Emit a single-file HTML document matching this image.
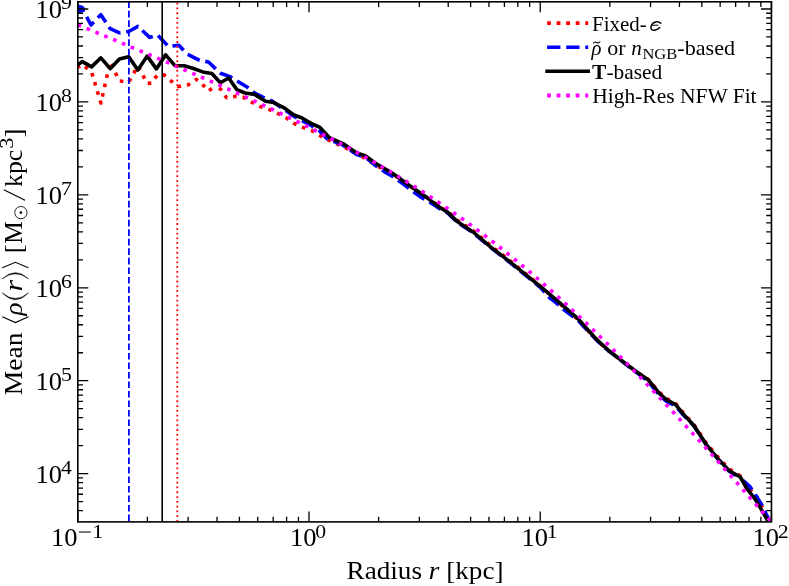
<!DOCTYPE html>
<html><head><meta charset="utf-8"><title>plot</title>
<style>
html,body{margin:0;padding:0;background:#fff;}
body{width:789px;height:586px;position:relative;overflow:hidden;font-family:"Liberation Serif",serif;color:#000;}
text{font-family:"Liberation Serif",serif;white-space:pre;}
</style></head><body>
<svg width="789" height="586" viewBox="0 0 789 586" style="position:absolute;left:0;top:0">
<defs><clipPath id="c"><rect x="77.8" y="1.8" width="693.6500000000001" height="520.1"/></clipPath></defs>
<g clip-path="url(#c)" fill="none" stroke-linejoin="round">
<path d="M77.75,67.30 L82.40,64.60 L91.60,72.10 L100.90,103.10 L110.20,61.80 L119.40,81.00 L128.70,82.00 L137.90,66.00 L147.20,83.40 L151.80,83.10 L157.00,75.30 L164.10,74.90 L170.90,80.80 L178.40,86.60 L188.40,84.80 L196.20,79.40 L202.30,84.20 L208.50,91.00 L216.00,85.50" stroke="#ff0000" stroke-width="3.6" stroke-dasharray="3.60 5.94" stroke-dashoffset="0.9"/>
<path d="M216.00,85.50 L221.00,89.60 L226.60,97.80 L234.80,96.40 L243.00,97.10 L251.20,101.90 L259.40,106.20 L268.90,109.40 L277.10,113.10 L286.00,117.60 L293.50,123.20 L302.00,127.10 L311.50,130.50 L319.00,135.00 L327.70,139.70 L336.00,143.60 L344.70,147.40 L361.80,156.40 L378.00,166.40 L391.40,173.23 L395.00,175.60 L409.80,185.97 L426.20,196.91 L440.00,207.02 L440.90,207.65 L447.70,211.14 L455.00,217.92 L457.30,220.20 L473.70,231.10 L491.40,246.20 L500.00,252.81 L510.00,260.70 L530.00,277.33 L532.80,279.73 L540.00,285.77 L553.70,298.01 L560.00,303.72 L567.30,310.00 L578.20,319.50 L587.80,330.40 L597.30,340.70 L600.00,343.20 L608.30,350.78 L620.00,359.50 L623.70,362.34 L637.30,372.34 L640.00,374.17 L648.40,379.50 L659.50,392.43 L660.00,392.84 L666.30,398.44 L675.70,403.59 L683.40,413.04 L693.60,424.20 L701.30,435.46 L706.20,443.00 L717.60,456.80 L728.90,468.90 L731.30,470.27 L740.30,476.00 L746.70,484.90 L752.40,492.20 L754.90,495.10 L756.50,497.53 L761.30,505.40 L762.10,506.80 L767.00,516.40 L767.80,517.80 L771.60,524.50" stroke="#ff0000" stroke-width="3.6" stroke-dasharray="3.60 5.94" stroke-dashoffset="5.6"/>
<path d="M82.00,8.30 L91.00,25.00 L100.90,14.70 L110.20,28.70 L119.40,32.80 L128.70,31.50 L137.90,26.40 L149.60,37.40 L157.50,35.00 L168.50,46.50 L178.80,45.30 L187.30,54.10 L199.60,60.30 L208.50,62.00 L216.00,69.10 L220.50,73.20 L230.00,76.60 L247.80,87.50 L254.60,93.00 L262.80,97.10 L272.30,101.20 L279.00,106.00 L295.00,116.90 L302.00,120.60 L312.00,126.03 L312.30,126.26 L320.00,131.15 L320.80,132.18 L326.00,137.67 L329.40,140.61 L335.00,141.73 L343.00,145.20 L345.00,146.57 L356.70,154.60 L365.20,157.20 L370.00,160.82 L375.40,165.51 L385.00,172.12 L391.40,175.68 L405.70,185.74 L409.80,188.96 L420.00,196.63 L426.20,200.07 L436.40,206.40 L440.90,209.54 L447.70,213.04 L450.00,215.18 L457.30,222.36 L473.70,233.16 L491.40,248.15 L500.00,254.71 L510.00,262.50 L532.80,281.23 L540.00,287.00 L549.60,297.73 L553.70,300.96 L559.80,305.85 L564.60,310.28 L567.30,312.23 L575.50,318.25 L578.20,320.47 L587.80,330.91 L590.00,333.19 L597.30,340.84 L608.30,350.66 L610.00,351.89 L620.00,359.67 L623.70,362.63 L637.30,373.06 L640.00,374.97 L646.00,379.94 L648.40,381.60 L659.50,395.20 L666.30,401.20 L670.00,403.21 L675.70,406.07 L680.00,411.15 L683.40,415.10 L693.60,425.58 L700.00,435.05 L706.20,444.71 L717.60,458.71 L728.00,470.04 L728.90,471.04 L740.30,478.00" stroke="#0000ff" stroke-width="3.6" stroke-dasharray="13.32 5.76" stroke-dashoffset="9.3"/>
<path d="M740.30,478.00 L750.00,486.70 L756.50,496.50 L762.10,505.40 L766.20,514.30 L771.60,524.00" stroke="#0000ff" stroke-width="3.6" stroke-dasharray="13.32 5.76" stroke-dashoffset="15.76"/>
<path d="M77,4.3 L82.2,5.6 Q85.6,7.6 85.0,9.4 Q84.4,10.9 81.2,12.7 L77,14.4 Z" fill="#0000ff" stroke="none"/>
<path d="M77.75,64.80 L82.40,61.60 L91.60,66.90 L100.90,57.80 L110.20,68.70 L119.40,59.10 L128.70,56.70 L137.90,70.00 L147.20,56.10 L156.40,68.90 L165.60,54.80 L174.90,65.70 L184.20,65.70 L193.50,68.50 L202.70,71.90 L211.90,73.50 L220.30,82.80 L228.70,78.00 L236.80,89.60 L245.00,93.00 L254.60,94.40 L265.50,101.20 L273.70,102.60 L283.30,107.30 L293.50,114.60 L302.00,118.00 L312.30,124.00 L320.00,127.40 L329.40,137.70 L343.00,143.60 L356.70,153.00 L365.20,155.60 L375.40,163.30 L391.40,172.50 L409.80,185.80 L426.20,197.10 L440.90,208.20 L447.70,212.10 L457.30,221.60 L473.70,232.50 L491.40,247.60 L510.00,261.90 L532.80,280.40 L540.00,286.10 L553.70,297.70 L567.30,309.40 L578.20,318.90 L587.80,329.80 L597.30,340.10 L608.30,350.30 L620.00,359.20 L623.70,362.10 L637.30,372.30 L648.40,380.00 L659.50,393.60 L666.30,399.60 L675.70,404.70 L683.40,414.10 L693.60,425.20 L706.20,444.60 L717.60,458.40 L728.90,470.50 L740.30,477.00 L746.70,488.40 L754.90,498.90 L761.30,509.40 L767.80,520.80 L771.60,527.50" stroke="#000" stroke-width="3.6"/>
<path d="M77.79,24.79 L80.70,26.00 L83.61,27.20 L86.52,28.41 L89.43,29.61 L92.34,30.82 L95.25,32.03 L98.16,33.24 L101.08,34.45 L103.99,35.66 L106.90,36.87 L109.81,38.09 L112.72,39.30 L115.63,40.52 L118.54,41.74 L121.45,42.96 L124.36,44.18 L127.27,45.40 L130.18,46.62 L133.09,47.85 L136.00,49.08 L138.91,50.30 L141.83,51.53 L144.74,52.77 L147.65,54.00 L150.56,55.24 L153.47,56.47 L156.38,57.71 L159.29,58.95 L162.20,60.20 L165.11,61.44 L168.02,62.69 L170.93,63.94 L173.84,65.19 L176.75,66.45 L179.66,67.71 L182.58,68.97 L185.49,70.23 L188.40,71.49 L191.31,72.76 L194.22,74.03 L197.13,75.30 L200.04,76.58 L202.95,77.86 L205.86,79.14 L208.77,80.42 L211.68,81.71 L214.59,83.00 L217.50,84.30 L220.41,85.60 L223.33,86.90 L226.24,88.20 L229.15,89.51 L232.06,90.83 L234.97,92.14 L237.88,93.46 L240.79,94.79 L243.70,96.12 L246.61,97.45 L249.52,98.79 L252.43,100.13 L255.34,101.48 L258.25,102.83 L261.16,104.19 L264.08,105.55 L266.99,106.92 L269.90,108.29 L272.81,109.67 L275.72,111.06 L278.63,112.45 L281.54,113.84 L284.45,115.24 L287.36,116.65 L290.27,118.07 L293.18,119.49 L296.09,120.91 L299.00,122.35 L301.91,123.79 L304.83,125.23 L307.74,126.69 L310.65,128.15 L313.56,129.62 L316.47,131.10 L319.38,132.58 L322.29,134.07 L325.20,135.58 L328.11,137.09 L331.02,138.60 L333.93,140.13 L336.84,141.67 L339.75,143.21 L342.66,144.76 L345.58,146.33 L348.49,147.90 L351.40,149.48 L354.31,151.07 L357.22,152.68 L360.13,154.29 L363.04,155.91 L365.95,157.55 L368.86,159.19 L371.77,160.85 L374.68,162.51 L377.59,164.19 L380.50,165.88 L383.41,167.58 L386.33,169.30 L389.24,171.02 L392.15,172.76 L395.06,174.51 L397.97,176.28 L400.88,178.06 L403.79,179.85 L406.70,181.65 L409.61,183.47 L412.52,185.30 L415.43,187.14 L418.34,189.00 L421.25,190.87 L424.16,192.76 L427.08,194.66 L429.99,196.57 L432.90,198.51 L435.81,200.45 L438.72,202.41 L441.63,204.39 L444.54,206.38 L447.45,208.39 L450.36,210.41 L453.27,212.45 L456.18,214.50 L459.09,216.57 L462.00,218.66 L464.91,220.76 L467.83,222.88 L470.74,225.02 L473.65,227.17 L476.56,229.34 L479.47,231.52 L482.38,233.72 L485.29,235.94 L488.20,238.18 L491.11,240.43 L494.02,242.70 L496.93,244.98 L499.84,247.28 L502.75,249.60 L505.66,251.94 L508.58,254.29 L511.49,256.66 L514.40,259.05 L517.31,261.46 L520.22,263.88 L523.13,266.32 L526.04,268.77 L528.95,271.24 L531.86,273.73 L534.77,276.24 L537.68,278.76 L540.59,281.30 L543.50,283.85 L546.41,286.42 L549.33,289.01 L552.24,291.61 L555.15,294.23 L558.06,296.87 L560.97,299.52 L563.88,302.18 L566.79,304.87 L569.70,307.56 L572.61,310.28 L575.52,313.01 L578.43,315.75 L581.34,318.51 L584.25,321.28 L587.16,324.07 L590.08,326.87 L592.99,329.68 L595.90,332.51 L598.81,335.36 L601.72,338.22 L604.63,341.09 L607.54,343.97 L610.45,346.87 L613.36,349.78 L616.27,352.70 L619.18,355.64 L622.09,358.59 L625.00,361.55 L627.91,364.52 L630.83,367.51 L633.74,370.50 L636.65,373.51 L639.56,376.53 L642.47,379.56 L645.38,382.60 L648.29,385.66 L651.20,388.72 L654.11,391.79 L657.02,394.88 L659.93,397.97 L662.84,401.07 L665.75,404.19 L668.66,407.31 L671.58,410.44 L674.49,413.58 L677.40,416.73 L680.31,419.89 L683.22,423.05 L686.13,426.23 L689.04,429.41 L691.95,432.61 L694.86,435.80 L697.77,439.01 L700.68,442.23 L703.59,445.45 L706.50,448.68 L709.41,451.91 L712.33,455.16 L715.24,458.41 L718.15,461.67 L721.06,464.93 L723.97,468.20 L726.88,471.47 L729.79,474.76 L732.70,478.04 L735.61,481.34 L738.52,484.64 L741.43,487.94 L744.34,491.25 L747.25,494.56 L750.16,497.88 L753.08,501.21 L755.99,504.54 L758.90,507.87 L761.81,511.21 L764.72,514.56 L767.63,517.91 L770.54,521.26 L773.45,524.62" stroke="#ff00ff" stroke-width="3.6" stroke-dasharray="3.6 5.96" stroke-dashoffset="0"/>
<path d="M128.9,521.1 V1.8" stroke="#0000ff" stroke-width="1.8" stroke-dasharray="6.62 2.884"/>
<path d="M162.2,521.9 V1.8" stroke="#000" stroke-width="1.62"/>
<path d="M177.3,521.9 V1.8" stroke="#ff0000" stroke-width="1.8" stroke-dasharray="1.8 2.99"/>
</g>
<path d="M77.80,521.9 v-10.5 M77.80,1.8 v10.5 M147.40,521.9 v-5.25 M147.40,1.8 v5.25 M188.12,521.9 v-5.25 M188.12,1.8 v5.25 M217.01,521.9 v-5.25 M217.01,1.8 v5.25 M239.41,521.9 v-5.25 M239.41,1.8 v5.25 M257.72,521.9 v-5.25 M257.72,1.8 v5.25 M273.20,521.9 v-5.25 M273.20,1.8 v5.25 M286.61,521.9 v-5.25 M286.61,1.8 v5.25 M298.44,521.9 v-5.25 M298.44,1.8 v5.25 M309.02,521.9 v-10.5 M309.02,1.8 v10.5 M378.62,521.9 v-5.25 M378.62,1.8 v5.25 M419.34,521.9 v-5.25 M419.34,1.8 v5.25 M448.22,521.9 v-5.25 M448.22,1.8 v5.25 M470.63,521.9 v-5.25 M470.63,1.8 v5.25 M488.94,521.9 v-5.25 M488.94,1.8 v5.25 M504.42,521.9 v-5.25 M504.42,1.8 v5.25 M517.83,521.9 v-5.25 M517.83,1.8 v5.25 M529.65,521.9 v-5.25 M529.65,1.8 v5.25 M540.23,521.9 v-10.5 M540.23,1.8 v10.5 M609.84,521.9 v-5.25 M609.84,1.8 v5.25 M650.55,521.9 v-5.25 M650.55,1.8 v5.25 M679.44,521.9 v-5.25 M679.44,1.8 v5.25 M701.85,521.9 v-5.25 M701.85,1.8 v5.25 M720.15,521.9 v-5.25 M720.15,1.8 v5.25 M735.63,521.9 v-5.25 M735.63,1.8 v5.25 M749.04,521.9 v-5.25 M749.04,1.8 v5.25 M760.87,521.9 v-5.25 M760.87,1.8 v5.25 M771.45,521.9 v-10.5 M771.45,1.8 v10.5 M77.8,510.63 h5.25 M771.45,510.63 h-5.25 M77.8,501.62 h5.25 M771.45,501.62 h-5.25 M77.8,494.27 h5.25 M771.45,494.27 h-5.25 M77.8,488.05 h5.25 M771.45,488.05 h-5.25 M77.8,482.66 h5.25 M771.45,482.66 h-5.25 M77.8,477.90 h5.25 M771.45,477.90 h-5.25 M77.8,473.65 h10.5 M771.45,473.65 h-10.5 M77.8,445.68 h5.25 M771.45,445.68 h-5.25 M77.8,429.31 h5.25 M771.45,429.31 h-5.25 M77.8,417.70 h5.25 M771.45,417.70 h-5.25 M77.8,408.69 h5.25 M771.45,408.69 h-5.25 M77.8,401.34 h5.25 M771.45,401.34 h-5.25 M77.8,395.12 h5.25 M771.45,395.12 h-5.25 M77.8,389.73 h5.25 M771.45,389.73 h-5.25 M77.8,384.97 h5.25 M771.45,384.97 h-5.25 M77.8,380.72 h10.5 M771.45,380.72 h-10.5 M77.8,352.75 h5.25 M771.45,352.75 h-5.25 M77.8,336.38 h5.25 M771.45,336.38 h-5.25 M77.8,324.77 h5.25 M771.45,324.77 h-5.25 M77.8,315.76 h5.25 M771.45,315.76 h-5.25 M77.8,308.41 h5.25 M771.45,308.41 h-5.25 M77.8,302.19 h5.25 M771.45,302.19 h-5.25 M77.8,296.80 h5.25 M771.45,296.80 h-5.25 M77.8,292.04 h5.25 M771.45,292.04 h-5.25 M77.8,287.79 h10.5 M771.45,287.79 h-10.5 M77.8,259.82 h5.25 M771.45,259.82 h-5.25 M77.8,243.45 h5.25 M771.45,243.45 h-5.25 M77.8,231.84 h5.25 M771.45,231.84 h-5.25 M77.8,222.83 h5.25 M771.45,222.83 h-5.25 M77.8,215.48 h5.25 M771.45,215.48 h-5.25 M77.8,209.26 h5.25 M771.45,209.26 h-5.25 M77.8,203.87 h5.25 M771.45,203.87 h-5.25 M77.8,199.11 h5.25 M771.45,199.11 h-5.25 M77.8,194.86 h10.5 M771.45,194.86 h-10.5 M77.8,166.89 h5.25 M771.45,166.89 h-5.25 M77.8,150.52 h5.25 M771.45,150.52 h-5.25 M77.8,138.91 h5.25 M771.45,138.91 h-5.25 M77.8,129.90 h5.25 M771.45,129.90 h-5.25 M77.8,122.55 h5.25 M771.45,122.55 h-5.25 M77.8,116.33 h5.25 M771.45,116.33 h-5.25 M77.8,110.94 h5.25 M771.45,110.94 h-5.25 M77.8,106.18 h5.25 M771.45,106.18 h-5.25 M77.8,101.93 h10.5 M771.45,101.93 h-10.5 M77.8,73.96 h5.25 M771.45,73.96 h-5.25 M77.8,57.59 h5.25 M771.45,57.59 h-5.25 M77.8,45.98 h5.25 M771.45,45.98 h-5.25 M77.8,36.97 h5.25 M771.45,36.97 h-5.25 M77.8,29.62 h5.25 M771.45,29.62 h-5.25 M77.8,23.40 h5.25 M771.45,23.40 h-5.25 M77.8,18.01 h5.25 M771.45,18.01 h-5.25 M77.8,13.25 h5.25 M771.45,13.25 h-5.25 M77.8,9.00 h10.5 M771.45,9.00 h-10.5" stroke="#000" stroke-width="1.3" fill="none"/>
<rect x="77.8" y="1.8" width="693.6500000000001" height="520.1" fill="none" stroke="#000" stroke-width="1.6"/>
<path d="M547.1,23.1 H588.2" stroke="#ff0000" stroke-width="3.9" stroke-dasharray="3.8 5.73" fill="none"/>
<path d="M547.1,47.3 H588.2" stroke="#0000ff" stroke-width="3.6" stroke-dasharray="13.32 5.76" fill="none"/>
<path d="M547.1,71.3 H588.2" stroke="#000" stroke-width="3.6" stroke-linecap="square" fill="none"/>
<path d="M547.1,95.5 H588.2" stroke="#ff00ff" stroke-width="3.9" stroke-dasharray="3.8 5.73" fill="none"/>
</svg>
<svg width="789" height="586" viewBox="0 0 789 586" style="position:absolute;left:0;top:0;will-change:transform;font-family:'Liberation Serif',serif" fill="#000"><text x="51.14" y="546.40" font-size="25" text-anchor="start" textLength="26.50" lengthAdjust="spacingAndGlyphs" >10</text>
<path d="M78.90,532.05 h11.9" stroke="#000" stroke-width="1.05" fill="none"/>
<text x="91.90" y="537.80" font-size="19.6" text-anchor="start" textLength="11.50" lengthAdjust="spacingAndGlyphs" >1</text>
<text x="290.01" y="546.40" font-size="25" text-anchor="start" textLength="26.50" lengthAdjust="spacingAndGlyphs" >10</text>
<text x="315.27" y="537.80" font-size="19.6" text-anchor="start" textLength="10.90" lengthAdjust="spacingAndGlyphs" >0</text>
<text x="521.57" y="546.40" font-size="25" text-anchor="start" textLength="26.50" lengthAdjust="spacingAndGlyphs" >10</text>
<text x="546.83" y="537.80" font-size="19.6" text-anchor="start" textLength="10.90" lengthAdjust="spacingAndGlyphs" >1</text>
<text x="752.59" y="546.40" font-size="25" text-anchor="start" textLength="26.50" lengthAdjust="spacingAndGlyphs" >10</text>
<text x="777.85" y="537.80" font-size="19.6" text-anchor="start" textLength="10.90" lengthAdjust="spacingAndGlyphs" >2</text>
<text x="35.64" y="482.95" font-size="25" text-anchor="start" textLength="26.50" lengthAdjust="spacingAndGlyphs" >10</text>
<text x="60.90" y="474.10" font-size="19.6" text-anchor="start" textLength="10.90" lengthAdjust="spacingAndGlyphs" >4</text>
<text x="35.64" y="390.02" font-size="25" text-anchor="start" textLength="26.50" lengthAdjust="spacingAndGlyphs" >10</text>
<text x="60.90" y="381.17" font-size="19.6" text-anchor="start" textLength="10.90" lengthAdjust="spacingAndGlyphs" >5</text>
<text x="35.64" y="297.09" font-size="25" text-anchor="start" textLength="26.50" lengthAdjust="spacingAndGlyphs" >10</text>
<text x="60.90" y="288.24" font-size="19.6" text-anchor="start" textLength="10.90" lengthAdjust="spacingAndGlyphs" >6</text>
<text x="35.64" y="204.16" font-size="25" text-anchor="start" textLength="26.50" lengthAdjust="spacingAndGlyphs" >10</text>
<text x="60.90" y="195.31" font-size="19.6" text-anchor="start" textLength="10.90" lengthAdjust="spacingAndGlyphs" >7</text>
<text x="35.64" y="111.23" font-size="25" text-anchor="start" textLength="26.50" lengthAdjust="spacingAndGlyphs" >10</text>
<text x="60.90" y="102.38" font-size="19.6" text-anchor="start" textLength="10.90" lengthAdjust="spacingAndGlyphs" >8</text>
<text x="35.64" y="18.30" font-size="25" text-anchor="start" textLength="26.50" lengthAdjust="spacingAndGlyphs" >10</text>
<text x="60.90" y="9.45" font-size="19.6" text-anchor="start" textLength="10.90" lengthAdjust="spacingAndGlyphs" >9</text>
<text x="592.10" y="30.50" font-size="21" text-anchor="start" textLength="54.70" lengthAdjust="spacingAndGlyphs" >Fixed-</text>
<path d="M660.7,23.3 C659.0,21.0 653.6,20.6 651.5,25.3 C649.7,29.6 652.6,30.6 655.0,30.2 C657.2,29.8 658.6,28.9 659.7,27.6" fill="none" stroke="#000" stroke-width="1.5" stroke-linecap="round"/><path d="M651.6,25.2 H658.2" stroke="#000" stroke-width="1.0" fill="none"/>
<text x="591.40" y="54.80" font-size="22" text-anchor="start" textLength="10.00" lengthAdjust="spacingAndGlyphs" ><tspan font-style="italic">ρ</tspan></text>
<path d="M593.2,43.4 q1.6,-2.2 3.5,-0.9 t3.5,-1.0" fill="none" stroke="#000" stroke-width="1.15"/>
<text x="607.30" y="54.80" font-size="21" text-anchor="start" textLength="18.30" lengthAdjust="spacingAndGlyphs" >or</text>
<text x="631.30" y="54.80" font-size="21" text-anchor="start" textLength="10.60" lengthAdjust="spacingAndGlyphs" ><tspan font-style="italic">n</tspan></text>
<text x="642.40" y="58.50" font-size="14.4" text-anchor="start" textLength="34.80" lengthAdjust="spacingAndGlyphs" >NGB</text>
<text x="677.30" y="54.80" font-size="21" text-anchor="start" textLength="57.80" lengthAdjust="spacingAndGlyphs" >-based</text>
<text x="592.10" y="78.70" font-size="21" text-anchor="start" textLength="70.20" lengthAdjust="spacingAndGlyphs" ><tspan font-weight="bold">T</tspan>-based</text>
<text x="592.20" y="103.00" font-size="21" text-anchor="start" textLength="164.40" lengthAdjust="spacingAndGlyphs" >High-Res NFW Fit</text>
<text x="346.50" y="578.70" font-size="25" text-anchor="start" textLength="157.00" lengthAdjust="spacingAndGlyphs" >Radius <tspan font-style="italic">r</tspan> [kpc]</text>
<g transform="translate(22.4,394.8) rotate(-90)">
<text x="-0.40" y="0.00" font-size="25" text-anchor="start" textLength="62.80" lengthAdjust="spacingAndGlyphs" >Mean</text>
<path d="M78.0,-20.1 L72.2,-7.0 L78.0,6.0" fill="none" stroke="#000" stroke-width="1.05"/>
<text x="79.40" y="0.00" font-size="26" text-anchor="start" textLength="13.00" lengthAdjust="spacingAndGlyphs" ><tspan font-style="italic">ρ</tspan></text>
<path d="M101.9,-20.1 Q88.4,-7 101.9,6 Q90.8,-7 101.9,-20.1 Z" fill="#000" stroke="#000" stroke-width="0.55"/>
<text x="103.40" y="0.00" font-size="25" text-anchor="start" textLength="11.60" lengthAdjust="spacingAndGlyphs" ><tspan font-style="italic">r</tspan></text>
<path d="M116.0,-20.1 Q128.3,-7 116.0,6 Q125.9,-7 116.0,-20.1 Z" fill="#000" stroke="#000" stroke-width="0.55"/>
<path d="M127.1,-20.1 L132.6,-7.0 L127.1,6.0" fill="none" stroke="#000" stroke-width="1.05"/>
<text x="141.60" y="0.00" font-size="25" text-anchor="start" textLength="8.90" lengthAdjust="spacingAndGlyphs" >[</text>
<text x="151.10" y="0.00" font-size="25" text-anchor="start" textLength="22.60" lengthAdjust="spacingAndGlyphs" >M</text>
<circle cx="182.2" cy="-1.5" r="6.15" fill="none" stroke="#000" stroke-width="0.85"/><circle cx="182.2" cy="-1.5" r="1.3" fill="#000"/>
<path d="M194.5,2.6 L205.0,-18.6" stroke="#000" stroke-width="1.2" fill="none"/>
<text x="207.90" y="0.00" font-size="25" text-anchor="start" textLength="37.20" lengthAdjust="spacingAndGlyphs" >kpc</text>
<text x="246.00" y="-9.60" font-size="18.5" text-anchor="start" textLength="11.20" lengthAdjust="spacingAndGlyphs" >3</text>
<text x="257.40" y="0.00" font-size="25" text-anchor="start" textLength="8.90" lengthAdjust="spacingAndGlyphs" >]</text>
</g></svg>
</body></html>
